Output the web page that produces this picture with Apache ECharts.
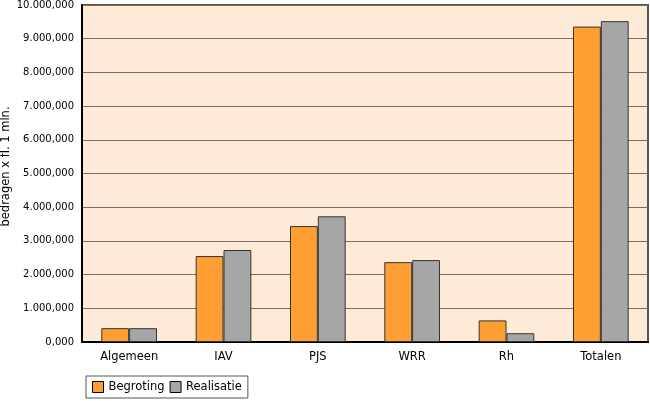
<!DOCTYPE html>
<html><head><meta charset="utf-8">
<script src="https://cdn.jsdelivr.net/npm/echarts@6/dist/echarts.min.js"></script>
<style>html,body{margin:0;padding:0;background:#fff}#c{width:650px;height:401px}</style>
</head><body><div id="c"></div>
<script>
const categories = ['Algemeen', 'IAV', 'PJS', 'WRR', 'Rh', 'Totalen'];
const begroting = [410, 2550, 3440, 2370, 640, 9360];
const realisatie = [410, 2730, 3730, 2430, 260, 9520];
const tickLabels = ['0,000', '1.000,000', '2.000,000', '3.000,000', '4.000,000', '5.000,000', '6.000,000', '7.000,000', '8.000,000', '9.000,000', '10.000,000'];

const chart = echarts.init(document.getElementById('c'));
const font = 'DejaVu Sans';
chart.setOption({
  animation: false,
  textStyle: { fontFamily: font },
  grid: { left: 82, right: 2, top: 5, bottom: 59, outerBoundsMode: 'none', containLabel: false,
    show: true, backgroundColor: '#fdebd8', borderColor: '#555', borderWidth: 2 },
  legend: {
    left: 86, top: 376, itemWidth: 11, itemHeight: 11, itemGap: 5,
    padding: [5, 6, 5, 6], borderColor: '#555', borderWidth: 1, backgroundColor: '#fff',
    textStyle: { fontFamily: font, fontSize: 11.5, color: '#000' },
    icon: 'rect',
    data: [{ name: 'Begroting', itemStyle: { borderColor: '#000', borderWidth: 1 } }, { name: 'Realisatie', itemStyle: { borderColor: '#000', borderWidth: 1 } }]
  },
  xAxis: {
    type: 'category', data: categories,
    axisLine: { lineStyle: { color: '#000', width: 2 } },
    axisTick: { inside: true, length: 4, lineStyle: { color: '#333' } },
    axisLabel: { fontFamily: font, fontSize: 11.5, color: '#000', margin: 9 }
  },
  yAxis: {
    type: 'value', min: 0, max: 10000, interval: 1000,
    name: 'bedragen x fl. 1 mln.', nameLocation: 'middle', nameGap: 70, nameRotate: 90,
    nameMoveOverlap: false,
    nameTextStyle: { fontFamily: font, fontSize: 11.5, color: '#000', padding: [0, 0, 0, 14] },
    axisLine: { show: true, lineStyle: { color: '#000', width: 2 } },
    axisTick: { show: false },
    splitLine: { lineStyle: { color: '#7a6c60', width: 1 } },
    axisLabel: { fontFamily: font, fontSize: 10, color: '#000', margin: 8,
      formatter: (v) => tickLabels[Math.round(v / 1000)] }
  },
  series: [
    { name: 'Begroting', type: 'bar', data: begroting, barGap: '0%', barCategoryGap: '41%',
      itemStyle: { color: '#ff9f33', borderColor: '#333', borderWidth: 1 } },
    { name: 'Realisatie', type: 'bar', data: realisatie,
      itemStyle: { color: '#a6a6a6', borderColor: '#333', borderWidth: 1 } }
  ]
});
</script></body></html>
